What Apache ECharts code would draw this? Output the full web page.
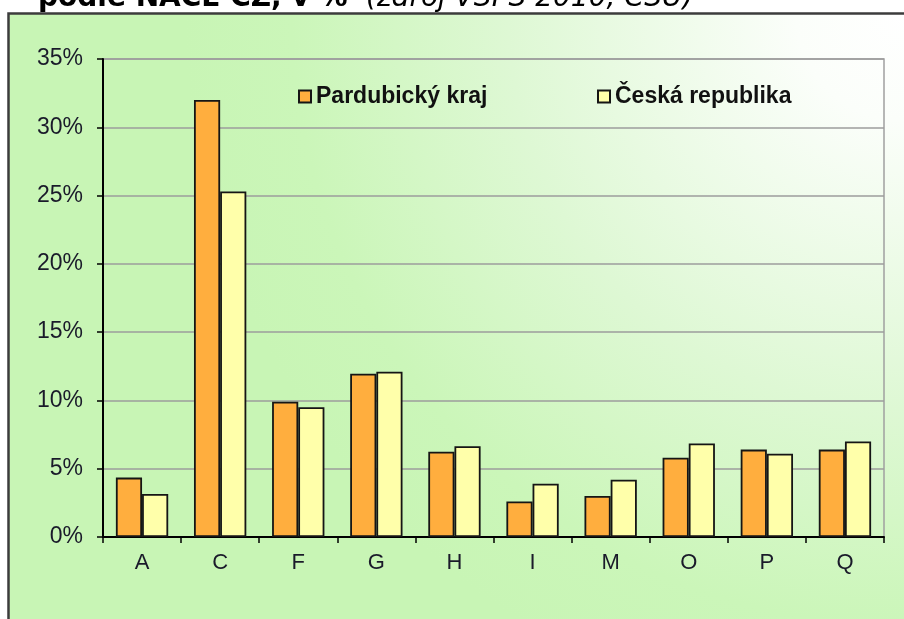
<!DOCTYPE html>
<html>
<head>
<meta charset="utf-8">
<script src="https://cdn.jsdelivr.net/npm/echarts@6/dist/echarts.min.js"></script>
<style>
  html, body { margin: 0; padding: 0; background: #ffffff; }
  #chart { width: 904px; height: 619px; }
</style>
</head>
<body>
<div id="chart"></div>
<script>
const categories = ['A', 'C', 'F', 'G', 'H', 'I', 'M', 'O', 'P', 'Q'];
const seriesNames = ['Pardubický kraj', 'Česká republika'];
const pardubickyKraj = [4.35, 32.0, 9.9, 11.95, 6.25, 2.6, 3.0, 5.8, 6.4, 6.4];
const ceskaRepublika = [3.15, 25.3, 9.5, 12.1, 6.65, 3.9, 4.2, 6.85, 6.1, 7.0];
const yMax = 35;
const yStep = 5;
const titleBold = 'podle NACE CZ, v %';
const titleItalic = '(zdroj VŠPS 2010, ČSÚ)';

const chart = echarts.init(document.getElementById('chart'), null, { renderer: 'canvas' });

const labelFont = 'Arial, "Liberation Sans", sans-serif';

const option = {
  animation: false,
  backgroundColor: '#ffffff',
  graphic: [
    {
      type: 'rect',
      z: -100,
      silent: true,
      shape: { x: 8.5, y: 13.5, width: 920, height: 640 },
      style: {
        fill: new echarts.graphic.RadialGradient(904, 13, 720, [
          { offset: 0, color: '#ffffff' },
          { offset: 0.15, color: '#fbfefa' },
          { offset: 0.55, color: '#def8d4' },
          { offset: 0.85, color: '#cbf6b9' },
          { offset: 1, color: '#c8f5b5' }
        ], true),
        stroke: '#3c3c3c',
        lineWidth: 2.5
      }
    },
    {
      type: 'text',
      silent: true,
      x: 38,
      y: -1.5,
      style: {
        text: titleBold,
        font: 'bold 28px "DejaVu Sans", Verdana, sans-serif',
        fill: '#000000',
        textVerticalAlign: 'middle',
        verticalAlign: 'middle'
      }
    },
    {
      type: 'text',
      silent: true,
      x: 366,
      y: -1.5,
      style: {
        text: titleItalic,
        font: 'italic 28px "DejaVu Sans", Verdana, sans-serif',
        fill: '#000000',
        textVerticalAlign: 'middle',
        verticalAlign: 'middle'
      }
    }
  ],
  legend: [
    {
      data: [seriesNames[0]],
      left: 293,
      top: 80,
      icon: 'rect',
      itemWidth: 12,
      itemHeight: 12,
      itemGap: 0,
      textStyle: { fontFamily: labelFont, fontWeight: 'bold', fontSize: 23, color: '#111111' }
    },
    {
      data: [seriesNames[1]],
      left: 592,
      top: 80,
      icon: 'rect',
      itemWidth: 12,
      itemHeight: 12,
      itemGap: 0,
      textStyle: { fontFamily: labelFont, fontWeight: 'bold', fontSize: 23, color: '#111111' }
    }
  ],
  grid: {
    left: 103,
    right: 20,
    top: 59,
    bottom: 82,
    containLabel: false,
    show: true,
    borderColor: '#a0a0a0',
    borderWidth: 1.5,
    backgroundColor: 'transparent'
  },
  xAxis: {
    type: 'category',
    data: categories,
    boundaryGap: true,
    axisLine: { show: true, lineStyle: { color: '#000000', width: 2 } },
    axisTick: { show: true, length: 6, lineStyle: { color: '#000000', width: 1.5 } },
    axisLabel: { margin: 15, fontFamily: labelFont, fontSize: 22, color: '#1a1a2a' },
    splitLine: { show: false }
  },
  yAxis: {
    type: 'value',
    min: 0,
    max: yMax,
    interval: yStep,
    axisLine: { show: true, lineStyle: { color: '#000000', width: 2 } },
    axisTick: { show: true, length: 6, lineStyle: { color: '#000000', width: 1.5 } },
    axisLabel: { margin: 20, fontFamily: labelFont, fontSize: 23, color: '#1a1a2a', formatter: '{value}%' },
    splitLine: { show: true, lineStyle: { color: '#9c9c9c', width: 1.5 } }
  },
  series: [
    {
      name: seriesNames[0],
      type: 'bar',
      data: pardubickyKraj,
      barGap: '0%',
      barCategoryGap: '33%',
      itemStyle: { color: '#ffae3e', borderColor: '#151515', borderWidth: 1.8 }
    },
    {
      name: seriesNames[1],
      type: 'bar',
      data: ceskaRepublika,
      barGap: '0%',
      barCategoryGap: '33%',
      itemStyle: { color: '#ffffaa', borderColor: '#151515', borderWidth: 1.8 }
    }
  ]
};

chart.setOption(option);
</script>
</body>
</html>
